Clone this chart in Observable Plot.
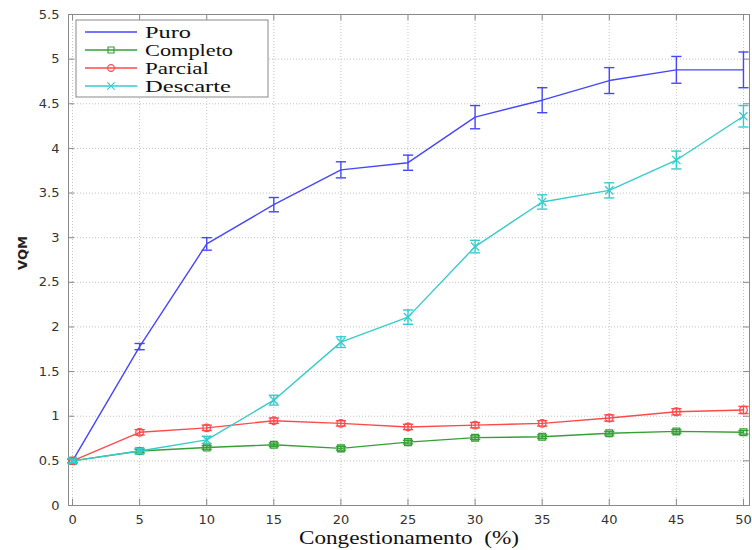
<!DOCTYPE html>
<html>
<head>
<meta charset="utf-8">
<script src="https://cdn.jsdelivr.net/npm/d3@7"></script>
<script src="https://cdn.jsdelivr.net/npm/@observablehq/plot@0.6"></script>
<style>
  html, body { margin: 0; padding: 0; background: #fff; }
  #chart { position: relative; width: 752px; height: 550px; }
</style>
</head>
<body>
<div id="chart"></div>
<script>
// ---- data ----
const congestion = [0, 5, 10, 15, 20, 25, 30, 35, 40, 45, 50];
const puro        = [0.50, 1.78, 2.93, 3.37, 3.76, 3.84, 4.35, 4.54, 4.76, 4.88, 4.88];
const puroErr     = [0.02, 0.035, 0.07, 0.08, 0.09, 0.085, 0.13, 0.14, 0.145, 0.15, 0.20];
const completo    = [0.50, 0.61, 0.65, 0.68, 0.64, 0.71, 0.76, 0.77, 0.81, 0.83, 0.82];
const completoErr = [0.02, 0.02, 0.02, 0.02, 0.02, 0.02, 0.02, 0.02, 0.02, 0.02, 0.02];
const parcial     = [0.50, 0.82, 0.87, 0.95, 0.92, 0.88, 0.90, 0.92, 0.98, 1.05, 1.07];
const parcialErr  = [0.02, 0.03, 0.03, 0.03, 0.03, 0.03, 0.03, 0.03, 0.035, 0.035, 0.04];
const descarte    = [0.50, 0.61, 0.735, 1.18, 1.83, 2.11, 2.90, 3.40, 3.53, 3.87, 4.36];
const descarteErr = [0.02, 0.03, 0.04, 0.055, 0.06, 0.08, 0.07, 0.08, 0.085, 0.10, 0.12];
const seriesNames = ["Puro", "Completo", "Parcial", "Descarte"];
const xTicks = [0, 5, 10, 15, 20, 25, 30, 35, 40, 45, 50];
const yTicks = [0, 0.5, 1, 1.5, 2, 2.5, 3, 3.5, 4, 4.5, 5, 5.5];
const xLabel = "Congestionamento\u00a0\u00a0(%)";
const yLabel = "VQM";

// ---- styles per series ----
const colors  = {Puro: "#4646ff", Completo: "#36a036", Parcial: "#ff4a4a", Descarte: "#36cccc"};
const symbols = {Puro: null, Completo: "square", Parcial: "circle", Descarte: "times"};
const valuesBy = {Puro: puro, Completo: completo, Parcial: parcial, Descarte: descarte};
const errsBy   = {Puro: puroErr, Completo: completoErr, Parcial: parcialErr, Descarte: descarteErr};

const rows = [];
for (const name of seriesNames) {
  congestion.forEach((x, i) => rows.push({name, x, y: valuesBy[name][i], e: errsBy[name][i], color: colors[name]}));
}
const capHalf = 0.38; // cap half-width in x units

const xDomain = [-0.3, 50.45];
const yDomain = [0, 5.5];

const marks = [
  Plot.gridX(xTicks, {stroke: "#c4c4c4", strokeOpacity: 1, strokeDasharray: "1,2"}),
  Plot.gridY(yTicks, {stroke: "#c4c4c4", strokeOpacity: 1, strokeDasharray: "1,2"}),
  Plot.frame({stroke: "#8a8a8a"}),
  // inward ticks
  Plot.ruleX(xTicks, {x: d => d, y1: 0, y2: 0.07, stroke: "#8a8a8a"}),
  Plot.ruleX(xTicks, {x: d => d, y1: 5.43, y2: 5.5, stroke: "#8a8a8a"}),
  Plot.ruleY(yTicks, {y: d => d, x1: xDomain[0], x2: xDomain[0] + 0.45, stroke: "#8a8a8a"}),
  Plot.ruleY(yTicks, {y: d => d, x1: xDomain[1] - 0.45, x2: xDomain[1], stroke: "#8a8a8a"}),
  Plot.axisX(xTicks, {tickSize: 0, tickPadding: 9, fontSize: 13, fill: "#333", tickFormat: d => String(d), label: null}),
  Plot.axisY(yTicks, {tickSize: 0, tickPadding: 9, fontSize: 13, fill: "#333", tickFormat: d => String(d), label: null}),
];

for (const name of seriesNames) {
  const data = rows.filter(r => r.name === name);
  marks.push(
    Plot.line(data, {x: "x", y: "y", stroke: "color", strokeWidth: 1.4}),
    Plot.ruleX(data, {x: "x", y1: d => d.y - d.e, y2: d => d.y + d.e, stroke: "color", strokeWidth: 1.4}),
    Plot.link(data, {x1: d => d.x - capHalf, x2: d => d.x + capHalf, y1: d => d.y - d.e, y2: d => d.y - d.e, stroke: "color", strokeWidth: 1.4}),
    Plot.link(data, {x1: d => d.x - capHalf, x2: d => d.x + capHalf, y1: d => d.y + d.e, y2: d => d.y + d.e, stroke: "color", strokeWidth: 1.4})
  );
  if (symbols[name]) {
    marks.push(Plot.dot(data, {x: "x", y: "y", symbol: () => symbols[name], r: 3.8, stroke: "color", fill: "none", strokeWidth: 1.3}));
  }
}

marks.push(
  Plot.text([xLabel], {frameAnchor: "bottom", dy: 38, fontFamily: "Liberation Serif, Times New Roman, serif", fontSize: 18, fill: "#111", className: "xlab"}),
  Plot.text([yLabel], {frameAnchor: "left", dx: -46, dy: 10, rotate: -90, fontFamily: "DejaVu Sans, sans-serif", fontSize: 13, fontWeight: "bold", fill: "#222"})
);

const chart = Plot.plot({
  width: 752, height: 550,
  marginLeft: 68, marginRight: 3, marginTop: 14, marginBottom: 45,
  x: {domain: xDomain},
  y: {domain: yDomain},
  color: {type: "identity"},
  symbol: {type: "identity"},
  style: {fontFamily: "DejaVu Sans, sans-serif", background: "#fff", overflow: "visible"},
  marks
});
document.getElementById("chart").appendChild(chart);

// stretch x label like the reference
d3.select(chart).selectAll("g.xlab text").attr("textLength", 220).attr("lengthAdjust", "spacingAndGlyphs");

// ---- legend (inside plot, top-left) ----
const svg = d3.select(chart);
const lg = svg.append("g").attr("transform", "translate(76,20)").attr("text-anchor", "start");
lg.append("rect").attr("width", 192).attr("height", 77).attr("fill", "#fff").attr("stroke", "#8a8a8a");
const legendWidths = {Puro: 46, Completo: 88, Parcial: 64, Descarte: 86};
seriesNames.forEach((name, i) => {
  const cy = 12 + i * 18;
  const row = lg.append("g").attr("transform", `translate(0,${cy})`);
  row.append("line").attr("x1", 9).attr("x2", 61).attr("y1", 0).attr("y2", 0).attr("stroke", colors[name]).attr("stroke-width", 1.4);
  if (symbols[name]) {
    const sym = symbols[name] === "square" ? d3.symbolSquare : symbols[name] === "circle" ? d3.symbolCircle : d3.symbolTimes;
    row.append("path").attr("d", d3.symbol(sym, 36)()).attr("transform", "translate(35,0)").attr("fill", "none").attr("stroke", colors[name]).attr("stroke-width", 1.2);
  }
  row.append("text").text(name).attr("x", 69).attr("y", 0).attr("dy", "0.35em")
    .attr("text-anchor", "start")
    .attr("font-family", "Liberation Serif, Times New Roman, serif").attr("font-size", 16).attr("fill", "#111")
    .attr("textLength", legendWidths[name]).attr("lengthAdjust", "spacingAndGlyphs");
});
</script>
</body>
</html>
